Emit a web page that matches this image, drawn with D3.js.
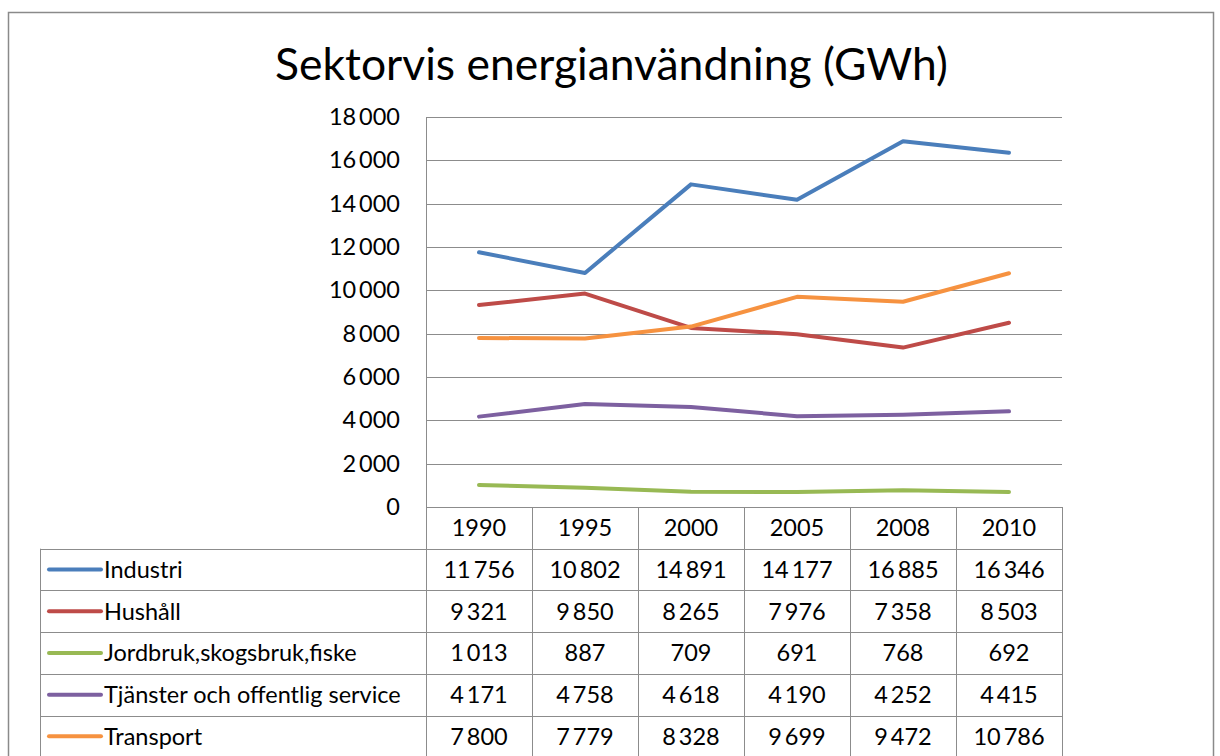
<!DOCTYPE html>
<html>
<head>
<meta charset="utf-8">
<script src="https://cdn.jsdelivr.net/npm/d3@7"></script>
<style>
  body { margin: 0; background: #fff; }
  svg text { font-family: Lato, "Open Sans", sans-serif; fill: #000; }
</style>
</head>
<body>
<svg width="1220" height="756"></svg>
<script>
const years = ["1990", "1995", "2000", "2005", "2008", "2010"];
const seriesNames = ["Industri", "Hushåll", "Jordbruk,skogsbruk,fiske", "Tjänster och offentlig service", "Transport"];
const industri = [11756, 10802, 14891, 14177, 16885, 16346];
const hushall = [9321, 9850, 8265, 7976, 7358, 8503];
const jordbruk = [1013, 887, 709, 691, 768, 692];
const tjanster = [4171, 4758, 4618, 4190, 4252, 4415];
const transport = [7800, 7779, 8328, 9699, 9472, 10786];
const colors = ["#4A7EBB", "#BE4B48", "#98B954", "#7D60A0", "#F69240"];
const yTicks = [0, 2000, 4000, 6000, 8000, 10000, 12000, 14000, 16000, 18000];

const series = [industri, hushall, jordbruk, tjanster, transport].map((v, i) => ({
    name: seriesNames[i], values: v, color: colors[i]
}));

const svg = d3.select("svg");
const grid = "#8c8c8c";
const fs = "23.5px";

// layout of the plot area (Excel style, table under the axis)
const plotLeft = 426, plotRight = 1062, plotTop = 117, plotBottom = 507;
const tableLeft = 40, rowH = 41.7;

// sv-style number format with a thin space as thousands separator
const fmt = d3.formatLocale({ decimal: ",", thousands: "\u2009", grouping: [3], currency: ["", " kr"] }).format(",d");

const x = d3.scaleBand().domain(years).range([plotLeft, plotRight]);
const y = d3.scaleLinear().domain([0, 18000]).range([plotBottom, plotTop]);

// outer chart border
svg.append("rect")
    .attr("x", 8.5).attr("y", 12.5)
    .attr("width", 1205).attr("height", 780)
    .attr("fill", "none").attr("stroke", "#8a8a8a").attr("stroke-width", 1.5);

// title
const title = svg.append("text")
    .attr("x", (275 + 948) / 2).attr("y", 80)
    .attr("text-anchor", "middle")
    .style("font-size", "40px")
    .text("Sektorvis energianvändning (GWh)");
const tw = title.node().getComputedTextLength();
title.style("font-size", (40 * 673 / tw) + "px");

// gridlines
svg.append("g").selectAll("line")
    .data(yTicks.filter(d => d > 0))
    .join("line")
    .attr("x1", plotLeft).attr("x2", plotRight)
    .attr("y1", d => Math.round(y(d)) + 0.5).attr("y2", d => Math.round(y(d)) + 0.5)
    .attr("stroke", grid).attr("stroke-width", 1);

// y axis
const yAxis = svg.append("g")
    .attr("transform", `translate(${plotLeft},0)`)
    .call(d3.axisLeft(y).tickValues(yTicks).tickFormat(fmt).tickSize(0).tickPadding(26));
yAxis.select(".domain").attr("stroke", grid);
yAxis.selectAll("text").style("font-size", fs).style("font-family", "Lato, sans-serif").attr("fill", "#000");

// data table
const tbl = svg.append("g");
const nRows = series.length;
// horizontal rules
const hRows = d3.range(nRows + 2).map(i => plotBottom + i * rowH);
tbl.selectAll("line.h")
    .data(hRows)
    .join("line")
    .attr("class", "h")
    .attr("x1", (d, i) => i < 1 ? plotLeft : tableLeft)
    .attr("x2", plotRight)
    .attr("y1", d => Math.round(d) + 0.5).attr("y2", d => Math.round(d) + 0.5)
    .attr("stroke", grid);
// vertical rules
const vCols = [plotLeft].concat(years.map(yr => x(yr) + x.bandwidth()));
tbl.selectAll("line.v")
    .data(vCols)
    .join("line")
    .attr("class", "v")
    .attr("x1", d => Math.round(d) + 0.5).attr("x2", d => Math.round(d) + 0.5)
    .attr("y1", plotBottom).attr("y2", plotBottom + (nRows + 1) * rowH)
    .attr("stroke", grid);
tbl.append("line")
    .attr("x1", tableLeft + 0.5).attr("x2", tableLeft + 0.5)
    .attr("y1", plotBottom + rowH).attr("y2", plotBottom + (nRows + 1) * rowH)
    .attr("stroke", grid);

// header years
tbl.selectAll("text.yr")
    .data(years)
    .join("text")
    .attr("class", "yr")
    .attr("x", d => x(d) + x.bandwidth() / 2)
    .attr("y", plotBottom + rowH / 2)
    .attr("dy", "0.36em")
    .attr("text-anchor", "middle")
    .style("font-size", fs)
    .text(d => d);

// rows
const row = tbl.selectAll("g.row")
    .data(series)
    .join("g")
    .attr("class", "row")
    .attr("transform", (d, i) => `translate(0,${plotBottom + (i + 1) * rowH + rowH / 2})`);
row.append("line")
    .attr("x1", 49).attr("x2", 101)
    .attr("stroke", d => d.color).attr("stroke-width", 4).attr("stroke-linecap", "round");
row.append("text")
    .attr("x", 104).attr("dy", "0.36em")
    .style("font-size", fs)
    .text(d => d.name);
row.selectAll("text.val")
    .data(d => d.values)
    .join("text")
    .attr("class", "val")
    .attr("x", (v, i) => x(years[i]) + x.bandwidth() / 2)
    .attr("dy", "0.36em")
    .attr("text-anchor", "middle")
    .style("font-size", fs)
    .text(v => fmt(v));

// lines
const line = d3.line()
    .x((v, i) => x(years[i]) + x.bandwidth() / 2)
    .y(v => y(v));
svg.append("g").selectAll("path")
    .data(series)
    .join("path")
    .attr("d", d => line(d.values))
    .attr("fill", "none")
    .attr("stroke", d => d.color)
    .attr("stroke-width", 4)
    .attr("stroke-linejoin", "round")
    .attr("stroke-linecap", "round");
</script>
</body>
</html>
